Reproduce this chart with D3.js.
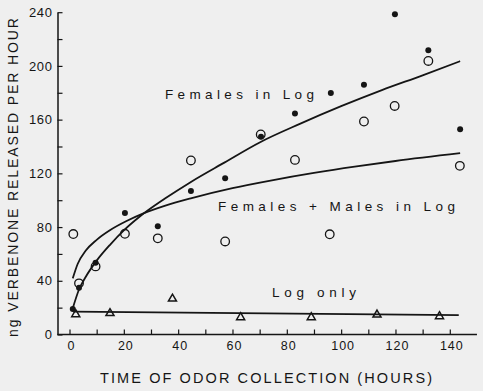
<!DOCTYPE html>
<html><head><meta charset="utf-8">
<script src="https://cdn.jsdelivr.net/npm/d3@7"></script>
<style>
html,body{margin:0;padding:0;background:#efefef;}
svg{display:block;font-family:"Liberation Sans",Arial,Helvetica,sans-serif;}
</style></head>
<body>
<svg id="chart" width="483" height="391"></svg>
<script>
// Time of odor collection (hours) and ng verbenone released per hour
const femalesInLog = [[1.2,19],[3.5,34.8],[9.6,53.4],[20.4,90.4],[32.5,80.7],[44.7,106.8],[57.3,116.4],[70.5,147.2],[83,164.6],[96.2,179.9],[108.4,185.9],[119.8,238.5],[132.1,211.7],[143.8,152.9]];
const femalesMalesInLog = [[1.4,74.8],[3.5,38.1],[9.6,50.7],[20.4,75],[32.5,71.6],[44.7,129.6],[57.3,69.3],[70.4,149],[83,130],[95.8,74.6],[108.4,158.6],[119.7,170.2],[132.1,203.7],[143.7,125.6]];
const logOnly = [[2.3,15],[14.9,15.8],[37.9,26.6],[63,12.8],[89,12.8],[113.2,14.7],[136.2,13.5]];
// fitted curves as drawn
const femalesCurve = [[1.2,19.5],[3.5,33.5],[6,43],[10,55],[15,67],[20,77.5],[26,88],[35,101],[45,114],[57,128],[70,143],[85,157],[100,170],[115,182],[130,193],[143.8,203.5]];
const femalesMalesCurve = [[1.2,41.8],[3,52.5],[6,62.5],[10,70.5],[15,77.8],[21,84.5],[27,90],[35,95.8],[45,101.6],[60,109],[75,115],[90,120.3],[105,125],[120,129.2],[143.8,135]];
const logOnlyLine = [[1.4,17],[143.3,14.5]];
const xTicks = [0,10,20,30,40,50,60,70,80,90,100,110,120,130,140];
const yTicks = [0,20,40,60,80,100,120,140,160,180,200,220,240];
const labels = [
  {text:"Females in Log", x:165, y:98.5, w:149},
  {text:"Females + Males in Log", x:218, y:210.5, w:237},
  {text:"Log only", x:272, y:296.5, w:84}
];
const xTitle = "TIME OF ODOR COLLECTION (HOURS)";
const yTitle = "ng VERBENONE RELEASED PER HOUR";

const svg = d3.select("#chart");
const ink = "#151515";
const x = d3.scaleLinear().domain([0,140]).range([69.5,449.8]);
const y = d3.scaleLinear().domain([0,240]).range([334.5,12.2]);
const axisX = 57.5;

// Y axis
const gy = svg.append("g").attr("transform",`translate(${axisX},0)`)
  .call(d3.axisLeft(y).tickValues(yTicks).tickSizeInner(-5).tickSizeOuter(0).tickPadding(5)
    .tickFormat(d => d % 40 === 0 ? d : ""));
gy.select(".domain").attr("stroke",ink).attr("stroke-width",1.5);
gy.selectAll(".tick line").attr("stroke",ink).attr("stroke-width",1.2);
gy.selectAll(".tick text").attr("fill",ink).style("font-size","13px").style("letter-spacing","0.6px");

// X axis
const gx = svg.append("g").attr("transform",`translate(0,${y(0)})`)
  .call(d3.axisBottom(x).tickValues(xTicks).tickSizeInner(-5).tickSizeOuter(0).tickPadding(7)
    .tickFormat(d => d % 20 === 0 ? d : ""));
gx.select(".domain").remove();
gx.append("line").attr("x1",axisX).attr("x2",x(150)).attr("stroke",ink).attr("stroke-width",1.5);
gx.selectAll(".tick line").attr("stroke",ink).attr("stroke-width",1.2);
gx.selectAll(".tick text").attr("fill",ink).style("font-size","12.5px").style("letter-spacing","1px").attr("dx","1.5");

// curves
const line = d3.line().x(d=>x(d[0])).y(d=>y(d[1])).curve(d3.curveMonotoneX);
[femalesCurve, femalesMalesCurve, logOnlyLine].forEach(c => {
  svg.append("path").datum(c).attr("d",line).attr("fill","none").attr("stroke",ink).attr("stroke-width",1.8);
});

// markers
svg.append("g").selectAll("circle").data(femalesMalesInLog).join("circle")
  .attr("cx",d=>x(d[0])).attr("cy",d=>y(d[1])).attr("r",4.3)
  .attr("fill","none").attr("stroke",ink).attr("stroke-width",1.3);
svg.append("g").selectAll("circle").data(femalesInLog).join("circle")
  .attr("cx",d=>x(d[0])).attr("cy",d=>y(d[1])).attr("r",3)
  .attr("fill",ink);
const tri = d3.symbol().type(d3.symbolTriangle).size(28);
svg.append("g").selectAll("path").data(logOnly).join("path")
  .attr("d",tri).attr("transform",d=>`translate(${x(d[0])},${y(d[1])})`)
  .attr("fill","none").attr("stroke",ink).attr("stroke-width",1.5);

// annotations
labels.forEach(l => {
  svg.append("text").attr("x",l.x).attr("y",l.y).attr("textLength",l.w).attr("lengthAdjust","spacing")
    .attr("fill",ink).style("font-size","13.5px").text(l.text);
});

// titles
svg.append("text").attr("x",100).attr("y",382.5).attr("textLength",332).attr("lengthAdjust","spacing")
  .attr("fill",ink).style("font-size","14.5px").text(xTitle);
svg.append("text").attr("transform","translate(17.8,337) rotate(-90)").attr("x",0).attr("y",0)
  .attr("textLength",319).attr("lengthAdjust","spacing")
  .attr("fill",ink).style("font-size","14px").text(yTitle);
</script>
</body></html>
